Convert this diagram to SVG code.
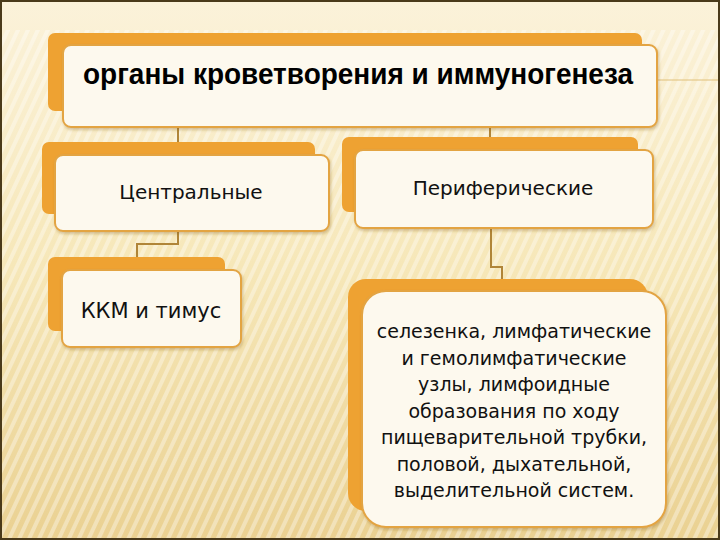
<svg xmlns="http://www.w3.org/2000/svg" width="720" height="540" viewBox="0 0 720 540">
<defs>
<linearGradient id="bg" x1="0" y1="0" x2="0" y2="1">
<stop offset="0" stop-color="#fbf2da"/>
<stop offset="0.5" stop-color="#f6e7b8"/>
<stop offset="1" stop-color="#ead192"/>
</linearGradient>
<pattern id="stripes" width="9" height="9" patternUnits="userSpaceOnUse" patternTransform="rotate(25)">
<rect x="0" y="0" width="4" height="9" fill="#ffffff" opacity="0.35"/>
</pattern>
<filter id="sh" x="-5%" y="-5%" width="110%" height="115%">
<feDropShadow dx="1" dy="2" stdDeviation="1.5" flood-color="#8a6420" flood-opacity="0.35"/>
</filter>
</defs>
<style>
.back{fill:#eea232;}
.front{fill:#fdf9ee;stroke:#e3a443;stroke-width:2;}
.lbl{font-family:"DejaVu Sans","Liberation Sans",sans-serif;fill:#111;text-anchor:middle;}
.title{font-family:"Liberation Sans",Arial,sans-serif;fill:#000;text-anchor:middle;font-size:29px;font-weight:bold;}
.conn{fill:none;stroke:#b08538;stroke-width:2;}
</style>
<rect x="0" y="0" width="720" height="540" fill="url(#bg)"/>
<rect x="0" y="30" width="720" height="510" fill="url(#stripes)"/>
<line x1="657" y1="80" x2="720" y2="80" stroke="#e0c07a" stroke-width="1"/>
<rect x="1" y="1" width="718" height="538" fill="none" stroke="#4a3a1a" stroke-width="2"/>

<g id="connectors">
<path class="conn" d="M178 127 V142"/>
<path class="conn" d="M490 127 V137"/>
<path class="conn" d="M178 231 V244 H137 V258"/>
<path class="conn" d="M491 228 V267 H502 V280"/>
</g>

<g id="node-top">
<rect class="back" x="48" y="33" width="594" height="78" rx="7"/>
<rect class="front" x="63" y="45" width="594" height="82" rx="8" filter="url(#sh)"/>
<text class="title" x="358" y="84" textLength="550" lengthAdjust="spacingAndGlyphs">органы кроветворения и иммуногенеза</text>
</g>

<g id="node-central">
<rect class="back" x="42" y="142" width="273" height="72" rx="7"/>
<rect class="front" x="55" y="155" width="274" height="76" rx="8" filter="url(#sh)"/>
<text class="lbl" x="191" y="199" font-size="20">Центральные</text>
</g>

<g id="node-peripheral">
<rect class="back" x="342" y="137" width="296" height="75" rx="7"/>
<rect class="front" x="355" y="150" width="298" height="78" rx="8" filter="url(#sh)"/>
<text class="lbl" x="503" y="195" font-size="20">Периферические</text>
</g>

<g id="node-kkm">
<rect class="back" x="48" y="257" width="177" height="74" rx="7"/>
<rect class="front" x="62" y="270" width="179" height="77" rx="8" filter="url(#sh)"/>
<text class="lbl" x="151" y="318" font-size="21">ККМ и тимус</text>
</g>

<g id="node-organs">
<rect class="back" x="348" y="279" width="300" height="232" rx="18"/>
<rect class="front" x="362" y="291" width="304" height="236" rx="24" filter="url(#sh)"/>
<g class="lbl" font-size="19">
<text x="514" y="338">селезенка, лимфатические</text>
<text x="514" y="364.5">и гемолимфатические</text>
<text x="514" y="391">узлы, лимфоидные</text>
<text x="514" y="417.5">образования по ходу</text>
<text x="514" y="444">пищеварительной трубки,</text>
<text x="514" y="470.5">половой, дыхательной,</text>
<text x="514" y="497">выделительной систем.</text>
</g>
</g>
</svg>
